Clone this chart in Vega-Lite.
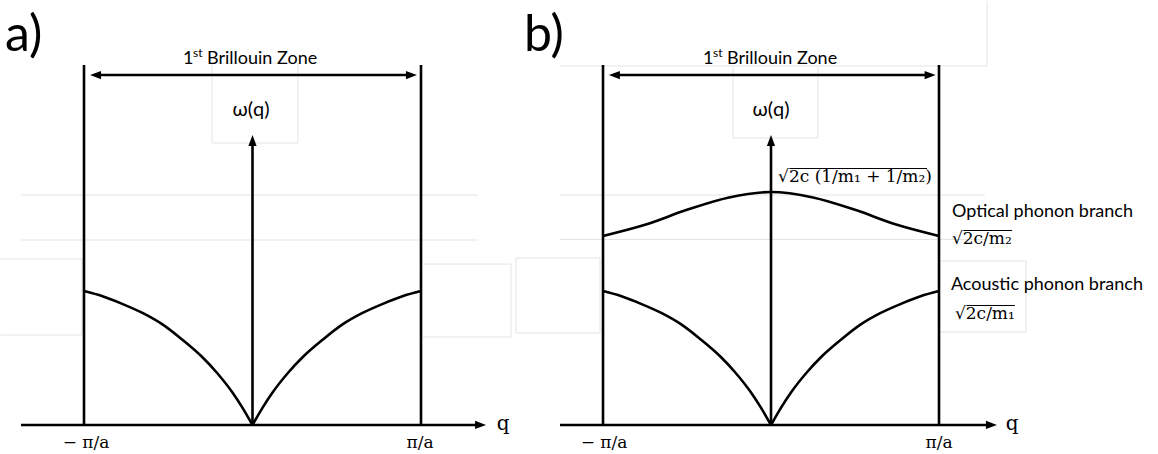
{
  "$schema": "https://vega.github.io/schema/vega-lite/v6.json",
  "padding": 0,
  "spacing": 0,
  "bounds": "flush",
  "background": "white",
  "config": {"view": {"stroke": null}, "concat": {"spacing": 0}},
  "datasets": {
    "faint_a": [
      {"q": -0.24, "w": 2.785, "q2": 0.27, "w2": 2.785},
      {"q": -0.24, "w": 2.169, "q2": 0.27, "w2": 2.169},
      {"q": -0.24, "w": 2.785, "q2": -0.24, "w2": 2.169},
      {"q": 0.27, "w": 2.785, "q2": 0.27, "w2": 2.169},
      {"q": -1.374, "w": 1.769, "q2": 1.338, "w2": 1.769},
      {"q": -1.374, "w": 1.423, "q2": 1.338, "w2": 1.423},
      {"q": -1.495, "w": 1.277, "q2": -1.012, "w2": 1.277},
      {"q": -1.495, "w": 0.692, "q2": -1.012, "w2": 0.692},
      {"q": -1.012, "w": 1.277, "q2": -1.012, "w2": 0.692},
      {"q": 1.012, "w": 1.238, "q2": 1.534, "w2": 1.238},
      {"q": 1.012, "w": 0.677, "q2": 1.534, "w2": 0.677},
      {"q": 1.534, "w": 1.238, "q2": 1.534, "w2": 0.677},
      {"q": 1.564, "w": 1.285, "q2": 1.8249, "w2": 1.285},
      {"q": 1.564, "w": 0.708, "q2": 1.8249, "w2": 0.708},
      {"q": 1.564, "w": 1.285, "q2": 1.564, "w2": 0.708}
    ],
    "rules_a": [
      {"q": -1, "w": 0, "q2": -1, "w2": 2.77},
      {"q": 1, "w": 0, "q2": 1, "w2": 2.77},
      {"q": 0, "w": 0, "q2": 0, "w2": 2.16},
      {"q": -1.374, "w": 0, "q2": 1.34, "w2": 0},
      {"q": -0.93, "w": 2.692, "q2": 0.94, "w2": 2.692}
    ],
    "heads_a": [
      {"q": 0, "w": 2.231, "dir": "up"},
      {"q": 1.386, "w": 0, "dir": "right"},
      {"q": -0.964, "w": 2.692, "dir": "left"},
      {"q": 0.976, "w": 2.692, "dir": "right"}
    ],
    "curves_a": [
      {"branch": "acoustic-left", "q": -1, "w": 1.03},
      {"branch": "acoustic-left", "q": -0.89, "w": 0.99},
      {"branch": "acoustic-left", "q": -0.77, "w": 0.93},
      {"branch": "acoustic-left", "q": -0.65, "w": 0.86},
      {"branch": "acoustic-left", "q": -0.53, "w": 0.77},
      {"branch": "acoustic-left", "q": -0.42, "w": 0.66},
      {"branch": "acoustic-left", "q": -0.3, "w": 0.525},
      {"branch": "acoustic-left", "q": -0.21, "w": 0.4},
      {"branch": "acoustic-left", "q": -0.12, "w": 0.252},
      {"branch": "acoustic-left", "q": -0.06, "w": 0.134},
      {"branch": "acoustic-left", "q": 0, "w": 0},
      {"branch": "acoustic-right", "q": 0, "w": 0},
      {"branch": "acoustic-right", "q": 0.06, "w": 0.134},
      {"branch": "acoustic-right", "q": 0.12, "w": 0.252},
      {"branch": "acoustic-right", "q": 0.21, "w": 0.4},
      {"branch": "acoustic-right", "q": 0.3, "w": 0.525},
      {"branch": "acoustic-right", "q": 0.42, "w": 0.66},
      {"branch": "acoustic-right", "q": 0.53, "w": 0.77},
      {"branch": "acoustic-right", "q": 0.65, "w": 0.86},
      {"branch": "acoustic-right", "q": 0.77, "w": 0.93},
      {"branch": "acoustic-right", "q": 0.89, "w": 0.99},
      {"branch": "acoustic-right", "q": 1, "w": 1.03}
    ],
    "labels_a": [
      {"kind": "title", "q": -1.469, "w": 2.877, "label": "a)"},
      {"kind": "zone", "q": -0.412, "w": 2.777, "label": "1"},
      {"kind": "zone", "q": -0.27, "w": 2.777, "label": "Brillouin Zone"},
      {"kind": "sup", "q": -0.353, "w": 2.831, "label": "st"},
      {"kind": "omega", "q": -0.009, "w": 2.377, "label": "ω(q)"},
      {"kind": "math", "q": -0.988, "w": -0.177, "label": "− π/a"},
      {"kind": "math", "q": 0.994, "w": -0.177, "label": "π/a"},
      {"kind": "var", "q": 1.487, "w": -0.038, "label": "q"}
    ],
    "faint_b": [
      {"q": -1.256, "w": 2.762, "q2": 1.286, "w2": 2.762},
      {"q": 1.286, "w": 3.26, "q2": 1.286, "w2": 2.762},
      {"q": -0.226, "w": 2.762, "q2": -0.226, "w2": 2.208},
      {"q": 0.28, "w": 2.762, "q2": 0.28, "w2": 2.208},
      {"q": -0.226, "w": 2.208, "q2": 0.28, "w2": 2.208},
      {"q": -1.256, "w": 1.769, "q2": 1.274, "w2": 1.769},
      {"q": -1.256, "w": 1.427, "q2": 1.274, "w2": 1.427},
      {"q": 1.006, "w": 1.262, "q2": 1.518, "w2": 1.262},
      {"q": 1.006, "w": 0.715, "q2": 1.518, "w2": 0.715},
      {"q": 1.518, "w": 1.262, "q2": 1.518, "w2": 0.715},
      {"q": -1.256, "w": 1.285, "q2": -1.018, "w2": 1.285},
      {"q": -1.256, "w": 0.708, "q2": -1.018, "w2": 0.708},
      {"q": -1.018, "w": 1.285, "q2": -1.018, "w2": 0.708}
    ],
    "rules_b": [
      {"q": -1, "w": 0, "q2": -1, "w2": 2.77},
      {"q": 1, "w": 0, "q2": 1, "w2": 2.77},
      {"q": 0, "w": 0, "q2": 0, "w2": 2.16},
      {"q": -1.256, "w": 0, "q2": 1.3, "w2": 0},
      {"q": -0.93, "w": 2.692, "q2": 0.95, "w2": 2.692}
    ],
    "heads_b": [
      {"q": 0, "w": 2.231, "dir": "up"},
      {"q": 1.345, "w": 0, "dir": "right"},
      {"q": -0.965, "w": 2.692, "dir": "left"},
      {"q": 0.98, "w": 2.692, "dir": "right"}
    ],
    "overlines_b": [
      {"q": 0.11, "w": 1.973, "q2": 0.929, "w2": 1.973},
      {"q": 1.146, "w": 1.496, "q2": 1.435, "w2": 1.496},
      {"q": 1.164, "w": 0.919, "q2": 1.452, "w2": 0.919}
    ],
    "curves_b": [
      {"branch": "acoustic-left", "q": -1, "w": 1.03},
      {"branch": "acoustic-left", "q": -0.89, "w": 0.99},
      {"branch": "acoustic-left", "q": -0.77, "w": 0.93},
      {"branch": "acoustic-left", "q": -0.65, "w": 0.86},
      {"branch": "acoustic-left", "q": -0.53, "w": 0.77},
      {"branch": "acoustic-left", "q": -0.42, "w": 0.66},
      {"branch": "acoustic-left", "q": -0.3, "w": 0.525},
      {"branch": "acoustic-left", "q": -0.21, "w": 0.4},
      {"branch": "acoustic-left", "q": -0.12, "w": 0.252},
      {"branch": "acoustic-left", "q": -0.06, "w": 0.134},
      {"branch": "acoustic-left", "q": 0, "w": 0},
      {"branch": "acoustic-right", "q": 0, "w": 0},
      {"branch": "acoustic-right", "q": 0.06, "w": 0.134},
      {"branch": "acoustic-right", "q": 0.12, "w": 0.252},
      {"branch": "acoustic-right", "q": 0.21, "w": 0.4},
      {"branch": "acoustic-right", "q": 0.3, "w": 0.525},
      {"branch": "acoustic-right", "q": 0.42, "w": 0.66},
      {"branch": "acoustic-right", "q": 0.53, "w": 0.77},
      {"branch": "acoustic-right", "q": 0.65, "w": 0.86},
      {"branch": "acoustic-right", "q": 0.77, "w": 0.93},
      {"branch": "acoustic-right", "q": 0.89, "w": 0.99},
      {"branch": "acoustic-right", "q": 1, "w": 1.03},
      {"branch": "optical", "q": -1, "w": 1.454},
      {"branch": "optical", "q": -0.75, "w": 1.54},
      {"branch": "optical", "q": -0.5, "w": 1.655},
      {"branch": "optical", "q": -0.25, "w": 1.75},
      {"branch": "optical", "q": 0, "w": 1.792},
      {"branch": "optical", "q": 0.25, "w": 1.75},
      {"branch": "optical", "q": 0.5, "w": 1.655},
      {"branch": "optical", "q": 0.75, "w": 1.54},
      {"branch": "optical", "q": 1, "w": 1.454}
    ],
    "labels_b": [
      {"kind": "title", "q": -1.47, "w": 2.877, "label": "b)"},
      {"kind": "zone", "q": -0.405, "w": 2.777, "label": "1"},
      {"kind": "zone", "q": -0.262, "w": 2.777, "label": "Brillouin Zone"},
      {"kind": "sup", "q": -0.345, "w": 2.831, "label": "st"},
      {"kind": "omega", "q": 0, "w": 2.377, "label": "ω(q)"},
      {"kind": "math", "q": -0.994, "w": -0.177, "label": "− π/a"},
      {"kind": "math", "q": 1, "w": -0.177, "label": "π/a"},
      {"kind": "var", "q": 1.435, "w": -0.038, "label": "q"},
      {"kind": "branch", "q": 1.077, "w": 1.6, "label": "Optical phonon branch"},
      {"kind": "branch", "q": 1.071, "w": 1.038, "label": "Acoustic phonon branch"},
      {"kind": "root", "q": 0.042, "w": 1.869, "label": "√2c (1/m₁ + 1/m₂)"},
      {"kind": "root", "q": 1.077, "w": 1.392, "label": "√2c/m₂"},
      {"kind": "root", "q": 1.095, "w": 0.815, "label": "√2c/m₁"}
    ]
  },
  "hconcat": [
    {
      "width": 560,
      "height": 454,
      "encoding": {
        "x": {"field": "q", "type": "quantitative", "scale": {"domain": [-1.4985, 1.8249], "nice": false, "zero": false}, "axis": null},
        "y": {"field": "w", "type": "quantitative", "scale": {"domain": [-0.2308, 3.2615], "nice": false, "zero": false}, "axis": null}
      },
      "layer": [
        {"data": {"name": "faint_a"}, "mark": {"type": "rule", "strokeWidth": 1, "color": "#e4e4e4"}, "encoding": {"x2": {"field": "q2"}, "y2": {"field": "w2"}}},
        {"data": {"name": "rules_a"}, "mark": {"type": "rule", "strokeWidth": 2.6, "color": "black"}, "encoding": {"x2": {"field": "q2"}, "y2": {"field": "w2"}}},
        {"data": {"name": "curves_a"}, "mark": {"type": "line", "interpolate": "monotone", "strokeWidth": 2.6, "color": "black"}, "encoding": {"detail": {"field": "branch"}}},
        {"data": {"name": "heads_a"}, "mark": {"type": "point", "filled": true, "opacity": 1, "size": 121, "color": "black", "strokeWidth": 0}, "encoding": {"shape": {"field": "dir", "type": "nominal", "legend": null, "scale": {"domain": ["up", "left", "right"], "range": ["M0,0L-0.75,2L0.75,2Z", "M0,0L2,-0.75L2,0.75Z", "M0,0L-2,-0.75L-2,0.75Z"]}}}},
        {"data": {"name": "labels_a"}, "transform": [{"filter": "datum.kind === 'title'"}], "mark": {"type": "text", "align": "left", "baseline": "alphabetic", "font": "Lato", "fontSize": 50, "color": "black"}, "encoding": {"text": {"field": "label"}}},
        {"data": {"name": "labels_a"}, "transform": [{"filter": "datum.kind === 'zone'"}], "mark": {"type": "text", "align": "left", "baseline": "alphabetic", "font": "Lato", "fontSize": 18, "color": "black"}, "encoding": {"text": {"field": "label"}}},
        {"data": {"name": "labels_a"}, "transform": [{"filter": "datum.kind === 'sup'"}], "mark": {"type": "text", "align": "left", "baseline": "alphabetic", "font": "Lato", "fontSize": 12, "color": "black"}, "encoding": {"text": {"field": "label"}}},
        {"data": {"name": "labels_a"}, "transform": [{"filter": "datum.kind === 'omega'"}], "mark": {"type": "text", "align": "center", "baseline": "alphabetic", "font": "Lato", "fontSize": 20, "color": "black"}, "encoding": {"text": {"field": "label"}}},
        {"data": {"name": "labels_a"}, "transform": [{"filter": "datum.kind === 'math'"}], "mark": {"type": "text", "align": "center", "baseline": "alphabetic", "font": "DejaVu Serif", "fontSize": 17, "color": "black"}, "encoding": {"text": {"field": "label"}}},
        {"data": {"name": "labels_a"}, "transform": [{"filter": "datum.kind === 'var'"}], "mark": {"type": "text", "align": "center", "baseline": "alphabetic", "font": "DejaVu Serif", "fontSize": 20, "color": "black"}, "encoding": {"text": {"field": "label"}}}
      ]
    },
    {
      "width": 598,
      "height": 454,
      "encoding": {
        "x": {"field": "q", "type": "quantitative", "scale": {"domain": [-1.256, 2.3036], "nice": false, "zero": false}, "axis": null},
        "y": {"field": "w", "type": "quantitative", "scale": {"domain": [-0.2308, 3.2615], "nice": false, "zero": false}, "axis": null}
      },
      "layer": [
        {"data": {"name": "faint_b"}, "mark": {"type": "rule", "strokeWidth": 1, "color": "#e4e4e4"}, "encoding": {"x2": {"field": "q2"}, "y2": {"field": "w2"}}},
        {"data": {"name": "rules_b"}, "mark": {"type": "rule", "strokeWidth": 2.6, "color": "black"}, "encoding": {"x2": {"field": "q2"}, "y2": {"field": "w2"}}},
        {"data": {"name": "overlines_b"}, "mark": {"type": "rule", "strokeWidth": 1.1, "color": "black"}, "encoding": {"x2": {"field": "q2"}, "y2": {"field": "w2"}}},
        {"data": {"name": "curves_b"}, "mark": {"type": "line", "interpolate": "monotone", "strokeWidth": 2.6, "color": "black"}, "encoding": {"detail": {"field": "branch"}}},
        {"data": {"name": "heads_b"}, "mark": {"type": "point", "filled": true, "opacity": 1, "size": 121, "color": "black", "strokeWidth": 0}, "encoding": {"shape": {"field": "dir", "type": "nominal", "legend": null, "scale": {"domain": ["up", "left", "right"], "range": ["M0,0L-0.75,2L0.75,2Z", "M0,0L2,-0.75L2,0.75Z", "M0,0L-2,-0.75L-2,0.75Z"]}}}},
        {"data": {"name": "labels_b"}, "transform": [{"filter": "datum.kind === 'title'"}], "mark": {"type": "text", "align": "left", "baseline": "alphabetic", "font": "Lato", "fontSize": 50, "color": "black"}, "encoding": {"text": {"field": "label"}}},
        {"data": {"name": "labels_b"}, "transform": [{"filter": "datum.kind === 'zone'"}], "mark": {"type": "text", "align": "left", "baseline": "alphabetic", "font": "Lato", "fontSize": 18, "color": "black"}, "encoding": {"text": {"field": "label"}}},
        {"data": {"name": "labels_b"}, "transform": [{"filter": "datum.kind === 'sup'"}], "mark": {"type": "text", "align": "left", "baseline": "alphabetic", "font": "Lato", "fontSize": 12, "color": "black"}, "encoding": {"text": {"field": "label"}}},
        {"data": {"name": "labels_b"}, "transform": [{"filter": "datum.kind === 'omega'"}], "mark": {"type": "text", "align": "center", "baseline": "alphabetic", "font": "Lato", "fontSize": 20, "color": "black"}, "encoding": {"text": {"field": "label"}}},
        {"data": {"name": "labels_b"}, "transform": [{"filter": "datum.kind === 'branch'"}], "mark": {"type": "text", "align": "left", "baseline": "alphabetic", "font": "Lato", "fontSize": 18, "color": "black"}, "encoding": {"text": {"field": "label"}}},
        {"data": {"name": "labels_b"}, "transform": [{"filter": "datum.kind === 'root'"}], "mark": {"type": "text", "align": "left", "baseline": "alphabetic", "font": "DejaVu Serif", "fontSize": 17, "color": "black"}, "encoding": {"text": {"field": "label"}}},
        {"data": {"name": "labels_b"}, "transform": [{"filter": "datum.kind === 'math'"}], "mark": {"type": "text", "align": "center", "baseline": "alphabetic", "font": "DejaVu Serif", "fontSize": 17, "color": "black"}, "encoding": {"text": {"field": "label"}}},
        {"data": {"name": "labels_b"}, "transform": [{"filter": "datum.kind === 'var'"}], "mark": {"type": "text", "align": "center", "baseline": "alphabetic", "font": "DejaVu Serif", "fontSize": 20, "color": "black"}, "encoding": {"text": {"field": "label"}}}
      ]
    }
  ]
}
